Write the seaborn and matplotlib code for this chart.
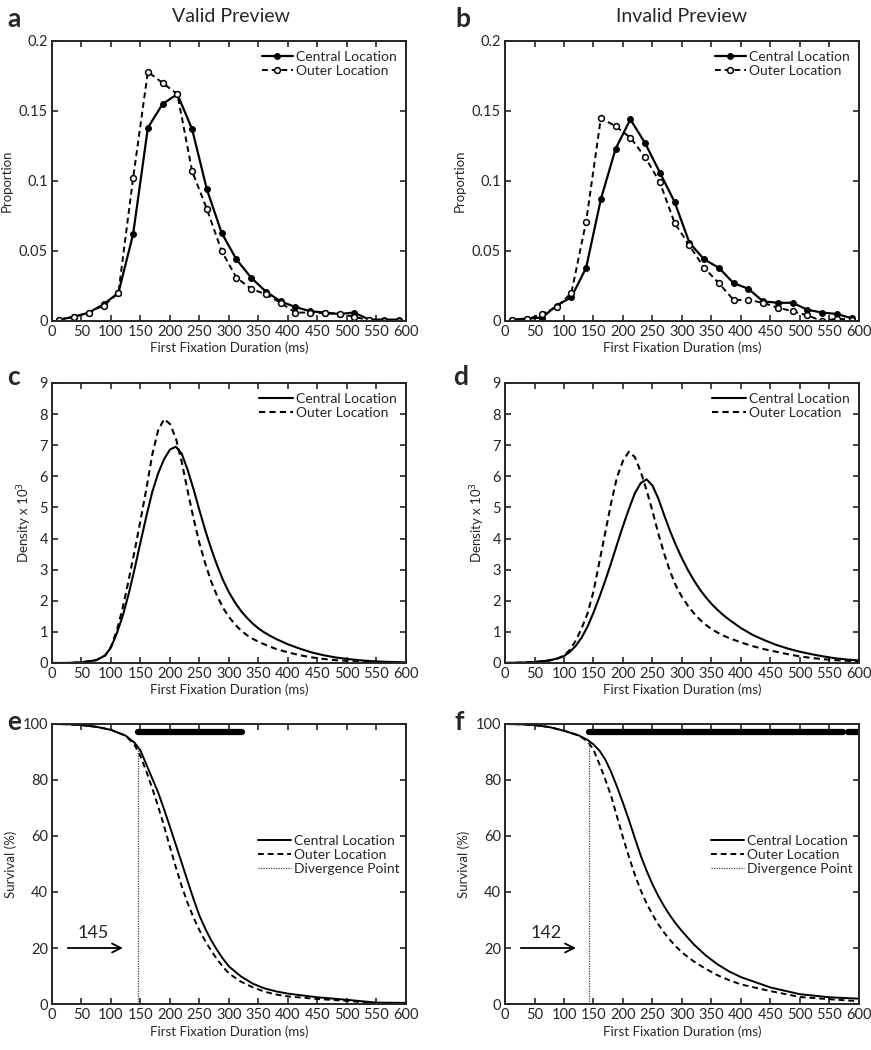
import matplotlib
matplotlib.use("Agg")
import matplotlib.pyplot as plt
import seaborn as sns

# ---------------- DATA ----------------
# histogram bin centres (ms)
bin_ms = [12.5, 37.5, 62.5, 87.5, 112.5, 137.5, 162.5, 187.5, 212.5, 237.5, 262.5, 287.5,
          312.5, 337.5, 362.5, 387.5, 412.5, 437.5, 462.5, 487.5, 512.5, 537.5, 562.5, 587.5]

# a: valid preview proportions
valid_central = [0.001, 0.003, 0.006, 0.012, 0.020, 0.062, 0.138, 0.155, 0.162, 0.137, 0.094, 0.063,
                 0.044, 0.031, 0.021, 0.014, 0.010, 0.007, 0.006, 0.005, 0.006, 0.001, 0.001, 0.001]
valid_outer = [0.001, 0.003, 0.006, 0.011, 0.020, 0.102, 0.178, 0.170, 0.162, 0.107, 0.080, 0.050,
               0.031, 0.023, 0.019, 0.013, 0.006, 0.006, 0.0055, 0.005, 0.003, 0.0005, 0.0, 0.0]

# b: invalid preview proportions
invalid_central = [0.001, 0.0017, 0.0024, 0.011, 0.017, 0.038, 0.087, 0.123, 0.144, 0.127, 0.106, 0.085,
                   0.056, 0.044, 0.038, 0.027, 0.023, 0.014, 0.013, 0.013, 0.008, 0.006, 0.005, 0.002]
invalid_outer = [0.0005, 0.0012, 0.005, 0.010, 0.020, 0.071, 0.145, 0.139, 0.131, 0.117, 0.099, 0.070,
                 0.054, 0.038, 0.027, 0.015, 0.015, 0.013, 0.0095, 0.007, 0.004, 0.0, 0.0016, 0.001]

# c/d: density curves (x 10^3)
dens_ms = [0, 25, 50, 75, 90, 100, 110, 120, 130, 140, 150, 160, 170, 180, 190, 200, 210, 220, 230,
           240, 250, 260, 270, 280, 290, 300, 310, 320, 330, 340, 350, 360, 370, 380, 400, 420, 440,
           460, 480, 500, 520, 540, 560, 580, 600]
dens_valid_central = [0, 0, 0.02, 0.09, 0.24, 0.50, 0.96, 1.52, 2.22, 3.02, 3.88, 4.72, 5.50, 6.10,
                      6.55, 6.86, 6.95, 6.72, 6.20, 5.58, 4.90, 4.25, 3.66, 3.13, 2.66, 2.27, 1.95,
                      1.68, 1.46, 1.27, 1.11, 0.98, 0.87, 0.77, 0.60, 0.46, 0.34, 0.25, 0.18, 0.13,
                      0.09, 0.06, 0.04, 0.03, 0.02]
dens_valid_outer = [0, 0, 0.02, 0.09, 0.24, 0.52, 1.05, 1.78, 2.67, 3.60, 4.58, 5.60, 6.70, 7.48,
                    7.84, 7.68, 7.22, 6.45, 5.52, 4.64, 3.84, 3.18, 2.61, 2.15, 1.77, 1.48, 1.24,
                    1.05, 0.90, 0.78, 0.68, 0.60, 0.52, 0.45, 0.34, 0.25, 0.18, 0.13, 0.09, 0.07,
                    0.05, 0.03, 0.02, 0.01, 0.01]
dens_invalid_central = [0, 0.01, 0.03, 0.08, 0.15, 0.22, 0.36, 0.55, 0.82, 1.17, 1.62, 2.12, 2.65,
                        3.22, 3.82, 4.40, 4.95, 5.45, 5.78, 5.90, 5.70, 5.28, 4.74, 4.23, 3.77, 3.36,
                        2.99, 2.66, 2.37, 2.12, 1.90, 1.71, 1.54, 1.39, 1.12, 0.90, 0.73, 0.58, 0.46,
                        0.36, 0.28, 0.21, 0.15, 0.11, 0.08]
dens_invalid_outer = [0, 0.01, 0.03, 0.08, 0.15, 0.24, 0.42, 0.72, 1.12, 1.60, 2.30, 3.25, 4.20,
                      5.15, 5.98, 6.50, 6.79, 6.62, 6.15, 5.55, 4.88, 4.15, 3.50, 2.93, 2.47, 2.12,
                      1.84, 1.60, 1.40, 1.23, 1.09, 0.98, 0.88, 0.80, 0.66, 0.54, 0.44, 0.36, 0.28,
                      0.21, 0.16, 0.12, 0.09, 0.07, 0.05]

# e/f: survival curves (%)
surv_ms = [0, 25, 50, 75, 100, 125, 140, 150, 160, 170, 180, 190, 200, 210, 220, 230, 240, 250,
           260, 270, 280, 290, 300, 320, 340, 360, 380, 400, 450, 500, 550, 600]
surv_valid_central = [100, 99.9, 99.6, 99.0, 97.9, 95.8, 93.3, 90.5, 85.5, 80.5, 75.5, 69.5, 63.2,
                      56.8, 50.3, 43.8, 37.4, 31.5, 26.8, 22.7, 19.2, 16.1, 13.4, 9.9, 7.3, 5.6, 4.5,
                      3.7, 2.4, 1.5, 0.5, 0.4]
surv_valid_outer = [100, 99.9, 99.6, 99.0, 97.9, 95.8, 92.5, 88.5, 83.0, 77.0, 70.5, 63.5, 56.0,
                    48.8, 42.0, 36.0, 30.8, 26.3, 22.4, 19.0, 15.9, 13.2, 10.9, 8.0, 6.0, 4.4, 3.4,
                    2.7, 1.8, 1.1, 0.3, 0.2]
surv_invalid_central = [100, 99.9, 99.6, 98.9, 97.6, 95.9, 94.3, 92.7, 90.5, 87.3, 82.8, 77.5, 71.8,
                        65.7, 59.3, 53.0, 47.6, 42.7, 38.5, 34.8, 31.5, 28.6, 26.0, 21.3, 17.4, 14.2,
                        11.6, 9.6, 5.9, 3.5, 2.4, 1.9]
surv_invalid_outer = [100, 99.9, 99.6, 98.9, 97.6, 95.9, 93.8, 90.8, 85.7, 80.2, 74.2, 66.8, 59.5,
                      52.6, 46.2, 40.6, 35.9, 31.9, 28.4, 25.4, 22.8, 20.5, 18.4, 15.2, 12.6, 10.3,
                      8.5, 7.0, 4.6, 2.5, 1.7, 1.0]

# divergence points and significance runs (ms)
divergence = [145, 142]
divergence_top = [92, 94]
sig_runs = [[(145, 322)], [(143, 573), (582, 605)]]

x_ticks = list(range(0, 601, 50))

# ---------------- STYLE ----------------
sns.set_style("ticks")
plt.rcParams["font.family"] = ["Lato", "DejaVu Sans"]
plt.rcParams["axes.linewidth"] = 1.4
plt.rcParams["xtick.direction"] = "in"
plt.rcParams["ytick.direction"] = "in"
plt.rcParams["xtick.top"] = True
plt.rcParams["ytick.right"] = True
plt.rcParams["xtick.major.size"] = 4
plt.rcParams["ytick.major.size"] = 4
plt.rcParams["xtick.major.width"] = 1.2
plt.rcParams["ytick.major.width"] = 1.2

fig = plt.figure(figsize=(8.71, 10.5), dpi=100)

lefts = [0.0597, 0.5798]
bottoms = [0.6943, 0.3686, 0.0438]
w, h = 0.4064, 0.2667

axes = [[fig.add_axes([l, b, w, h]) for l in lefts] for b in bottoms]


def style_axis(ax, ylim, yticks, yticklabels, ylabel):
    ax.set_xlim(0, 600)
    ax.set_ylim(*ylim)
    ax.set_xticks(x_ticks)
    ax.set_xticklabels([str(t) for t in x_ticks], fontsize=10.5)
    ax.set_yticks(yticks)
    ax.set_yticklabels(yticklabels, fontsize=10.5)
    ax.tick_params(axis="both", pad=3, labeltop=False, labelright=False)
    ax.set_xlabel("First Fixation Duration (ms)", fontsize=9.5, labelpad=2)
    ax.set_ylabel(ylabel, fontsize=9.5, labelpad=4)
    for s in ax.spines.values():
        s.set_visible(True)


# ---------------- ROW 1: proportions ----------------
for ax, cen, out in zip(axes[0], [valid_central, invalid_central], [valid_outer, invalid_outer]):
    sns.lineplot(x=bin_ms, y=cen, ax=ax, color="black", lw=1.6, marker="o", markersize=4.2,
                 markerfacecolor="black", markeredgecolor="black", label="Central Location")
    sns.lineplot(x=bin_ms, y=out, ax=ax, color="black", lw=1.4, linestyle=(0, (3, 2)), marker="o",
                 markersize=4.2, markerfacecolor="white", markeredgecolor="black", markeredgewidth=1.1,
                 label="Outer Location")
    style_axis(ax, (0, 0.2), [0, 0.05, 0.1, 0.15, 0.2], ["0", "0.05", "0.1", "0.15", "0.2"], "Proportion")
    ax.legend(loc="upper right", frameon=False, fontsize=10, handlelength=2.2, handletextpad=0.2,
              labelspacing=0.15, borderaxespad=0.3)

# ---------------- ROW 2: densities ----------------
for ax, cen, out in zip(axes[1], [dens_valid_central, dens_invalid_central],
                        [dens_valid_outer, dens_invalid_outer]):
    sns.lineplot(x=dens_ms, y=cen, ax=ax, color="black", lw=1.5, label="Central Location")
    sns.lineplot(x=dens_ms, y=out, ax=ax, color="black", lw=1.5, linestyle=(0, (3, 2)),
                 label="Outer Location")
    style_axis(ax, (0, 9), list(range(10)), [str(i) for i in range(10)], "Density x 10$^3$")
    ax.legend(loc="upper right", frameon=False, fontsize=10, handlelength=2.4, handletextpad=0.2,
              labelspacing=0.15, borderaxespad=0.3)

# ---------------- ROW 3: survival ----------------
for i, (ax, cen, out) in enumerate(zip(axes[2], [surv_valid_central, surv_invalid_central],
                                      [surv_valid_outer, surv_invalid_outer])):
    sns.lineplot(x=surv_ms, y=cen, ax=ax, color="black", lw=1.4, label="Central Location")
    sns.lineplot(x=surv_ms, y=out, ax=ax, color="black", lw=1.4, linestyle=(0, (3, 2)),
                 label="Outer Location")
    dp = divergence[i]
    # vertical line: plain ax.plot, since lineplot would aggregate identical x values
    ax.plot([dp, dp], [0, divergence_top[i]], color="#444444", lw=0.9,
            linestyle=(0, (1, 1)), label="Divergence Point")
    for a, b in sig_runs[i]:
        ax.plot([a, b], [97, 97], color="black", lw=4.5, solid_capstyle="round", clip_on=True)
    ax.annotate("", xy=(125, 20), xytext=(22, 20),
                arrowprops=dict(arrowstyle="->", lw=1.3, color="black", mutation_scale=16))
    ax.text(70, 22.5, str(dp), fontsize=13, ha="center", va="bottom")
    style_axis(ax, (0, 100), list(range(0, 101, 20)), [str(t) for t in range(0, 101, 20)],
               "Survival (%)")
    ax.legend(loc="upper left", bbox_to_anchor=(0.565, 0.625), frameon=False, fontsize=10,
              handlelength=2.4, handletextpad=0.2, labelspacing=0.15, borderaxespad=0.0)

# ---------------- titles and panel letters ----------------
fig.text(0.265, 0.984, "Valid Preview", fontsize=14, ha="center", va="center")
fig.text(0.783, 0.984, "Invalid Preview", fontsize=14, ha="center", va="center")
letters = [("a", 0.008, 0.982), ("b", 0.523, 0.982), ("c", 0.008, 0.641),
           ("d", 0.52, 0.641), ("e", 0.008, 0.312), ("f", 0.522, 0.312)]
for t, x, y in letters:
    fig.text(x, y, t, fontsize=19, fontweight="bold", ha="left", va="center")

fig.savefig("out.png", dpi=100)
